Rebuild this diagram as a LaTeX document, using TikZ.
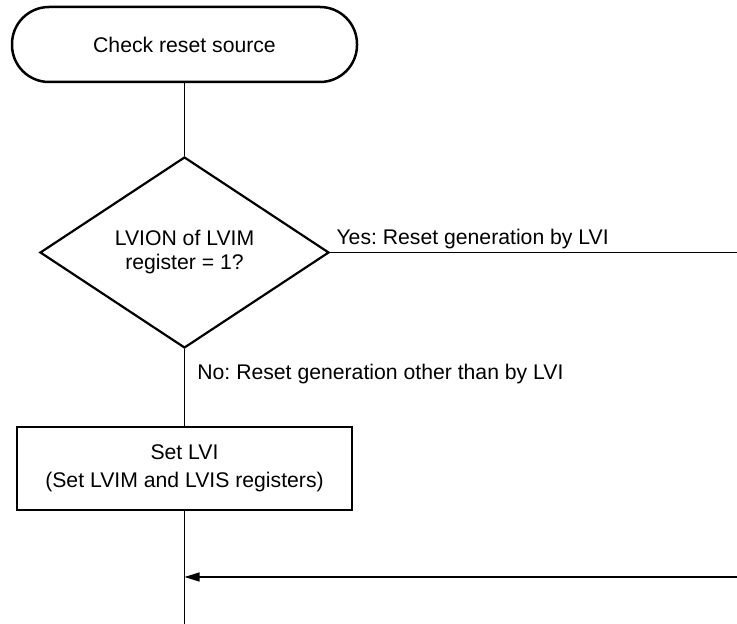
\documentclass[tikz,border=0pt]{standalone}
\usepackage{fontspec}
\setmainfont{Liberation Sans}
\frenchspacing
\usetikzlibrary{shapes.geometric,arrows.meta,calc}

\begin{document}
\begin{tikzpicture}[x=0.5pt, y=-0.5pt,
    font=\fontsize{10.6}{12}\selectfont,
    flowline/.style={line width=0.65pt},
    terminal/.style={draw, line width=1.25pt, rounded corners=18.5pt, minimum width=172.5pt, minimum height=37.5pt, inner sep=0pt},
    decision/.style={draw, diamond, line width=1.1pt, minimum width=144.5pt, minimum height=95.5pt, inner sep=0pt, align=center},
    process/.style={draw, line width=1.25pt, minimum width=167.5pt, minimum height=41.5pt, inner sep=0pt, align=center},
    branch/.style={anchor=base west, inner sep=0pt}]
    \useasboundingbox (0,0) rectangle (737,624);
    \node[terminal] (start) at (184.5,44.5) {Check reset source};
    \node[decision] (check) at (184.5,252.5) {LVION of LVIM\\register = 1?};
    \node[process, font=\fontsize{10.6}{13.75}\selectfont] (setlvi) at (184.5,468.5) {Set LVI\\(Set LVIM and LVIS registers)};
    \coordinate (yesend) at (737,252.5);
    \coordinate (retstart) at (737,577);
    \coordinate (retjoin) at (184.5,577);
    \coordinate (down) at (184.5,624);
    \draw[flowline] (start) -- (check);
    \draw[flowline] (check) -- (setlvi);
    \draw[flowline] (setlvi) -- (down);
    \draw[flowline] (check.east) -- (yesend);
    \draw[flowline, -{Triangle[length=7.5pt,width=4.5pt]}] (retstart) -- (retjoin);
    \node[branch] (yes) at ($(check.east)+(6,-8)$) {Yes: Reset generation by LVI};
    \node[branch] (no) at ($(check.south)+(12.5,30)$) {No: Reset generation other than by LVI};
\end{tikzpicture}
\end{document}
